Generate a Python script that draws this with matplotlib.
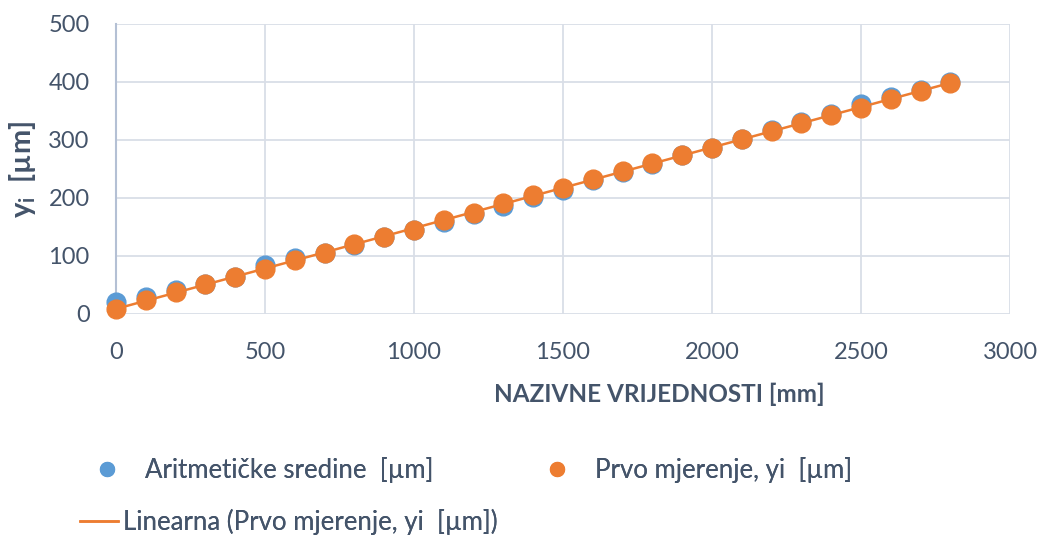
import numpy as np
import matplotlib.pyplot as plt
from matplotlib.lines import Line2D

plt.rcParams['font.family'] = ['Lato', 'DejaVu Sans']
plt.rcParams['mathtext.fontset'] = 'custom'
plt.rcParams['mathtext.rm'] = 'Lato'
plt.rcParams['mathtext.bf'] = 'Lato:bold'

# nazivne vrijednosti [mm]
nominal = [0, 100, 200, 300, 400, 500, 600, 700, 800, 900, 1000, 1100, 1200, 1300, 1400,
           1500, 1600, 1700, 1800, 1900, 2000, 2100, 2200, 2300, 2400, 2500, 2600, 2700, 2800]
# aritmeticke sredine [um]
mean_vals = [20, 30, 42, 51, 64, 84, 96, 106, 119, 133, 144, 158, 172, 186, 201,
             214, 231, 245, 259, 274, 287, 301, 318, 331, 345, 362, 375, 386, 400]
# prvo mjerenje [um]
first_vals = [9, 24, 38, 51, 63, 78, 93, 106, 120, 132, 145, 162, 175, 191, 205,
              218, 232, 246, 260, 274, 287, 301, 316, 330, 343, 356, 370, 384, 398]

BLUE = '#5B9BD5'
ORANGE = '#ED7D31'
TEXT = '#44546A'
GRID = '#D9DEE7'

W, H = 1040, 540
fig = plt.figure(figsize=(W / 100, H / 100), dpi=100)
ax = fig.add_axes([116 / W, 1 - 314 / H, 894 / W, 290 / H])

x = np.array(nominal)
k, n = np.polyfit(x, first_vals, 1)

ax.plot(x, mean_vals, 'o', color=BLUE, ms=13.5, zorder=3, clip_on=False)
ax.plot(x, first_vals, 'o', color=ORANGE, ms=13.5, zorder=4, clip_on=False)
ax.plot(x, k * x + n, '-', color=ORANGE, lw=1.8, zorder=5)

ax.set_xlim(0, 3000)
ax.set_ylim(0, 500)
ax.set_xticks(range(0, 3001, 500))
ax.set_yticks(range(0, 501, 100))
ax.grid(True, color=GRID, lw=1.3)
ax.set_axisbelow(True)
for side in ['top', 'right', 'bottom']:
    ax.spines[side].set_visible(False)
ax.spines['left'].set_color('#B4C0D4')
ax.spines['left'].set_linewidth(1.5)
ax.tick_params(length=0, labelsize=17, labelcolor=TEXT)
ax.tick_params(axis='y', pad=19)
ax.tick_params(axis='x', pad=20)

ax.set_xlabel('NAZIVNE VRIJEDNOSTI [mm]', fontsize=17.5, fontweight='bold', color=TEXT)
ax.xaxis.set_label_coords(0.608, -0.235)
ax.set_ylabel(r'$\mathbf{y_i}$  [µm]', fontsize=21, fontweight='bold', color=TEXT)
ax.yaxis.set_label_coords(-0.087, 0.497)

# legend: one entry per box so each sits where it should
fs = 18.5
em = fs * 100 / 72


def entry(handle, label, px, py, hlen, pad):
    leg = fig.legend([handle], [label], loc='center left',
                     bbox_to_anchor=(px / W, 1 - py / H), frameon=False,
                     fontsize=fs, labelcolor=TEXT, handlelength=hlen,
                     handletextpad=pad, borderpad=0, borderaxespad=0)
    fig.add_artist(leg)


h_mean = Line2D([], [], ls='none', marker='o', color=BLUE, ms=10)
h_first = Line2D([], [], ls='none', marker='o', color=ORANGE, ms=10)
h_trend = Line2D([], [], color=ORANGE, lw=1.8)

entry(h_mean, 'Aritmetičke sredine  [µm]', 107 - em / 2, 470, 1.0, 0.98)
entry(h_first, 'Prvo mjerenje, yi  [µm]', 557 - em / 2, 470, 1.0, 0.98)
entry(h_trend, 'Linearna (Prvo mjerenje, yi  [µm])', 80, 522, 38 / em, 0.2)

fig.savefig('out.png', dpi=100)
